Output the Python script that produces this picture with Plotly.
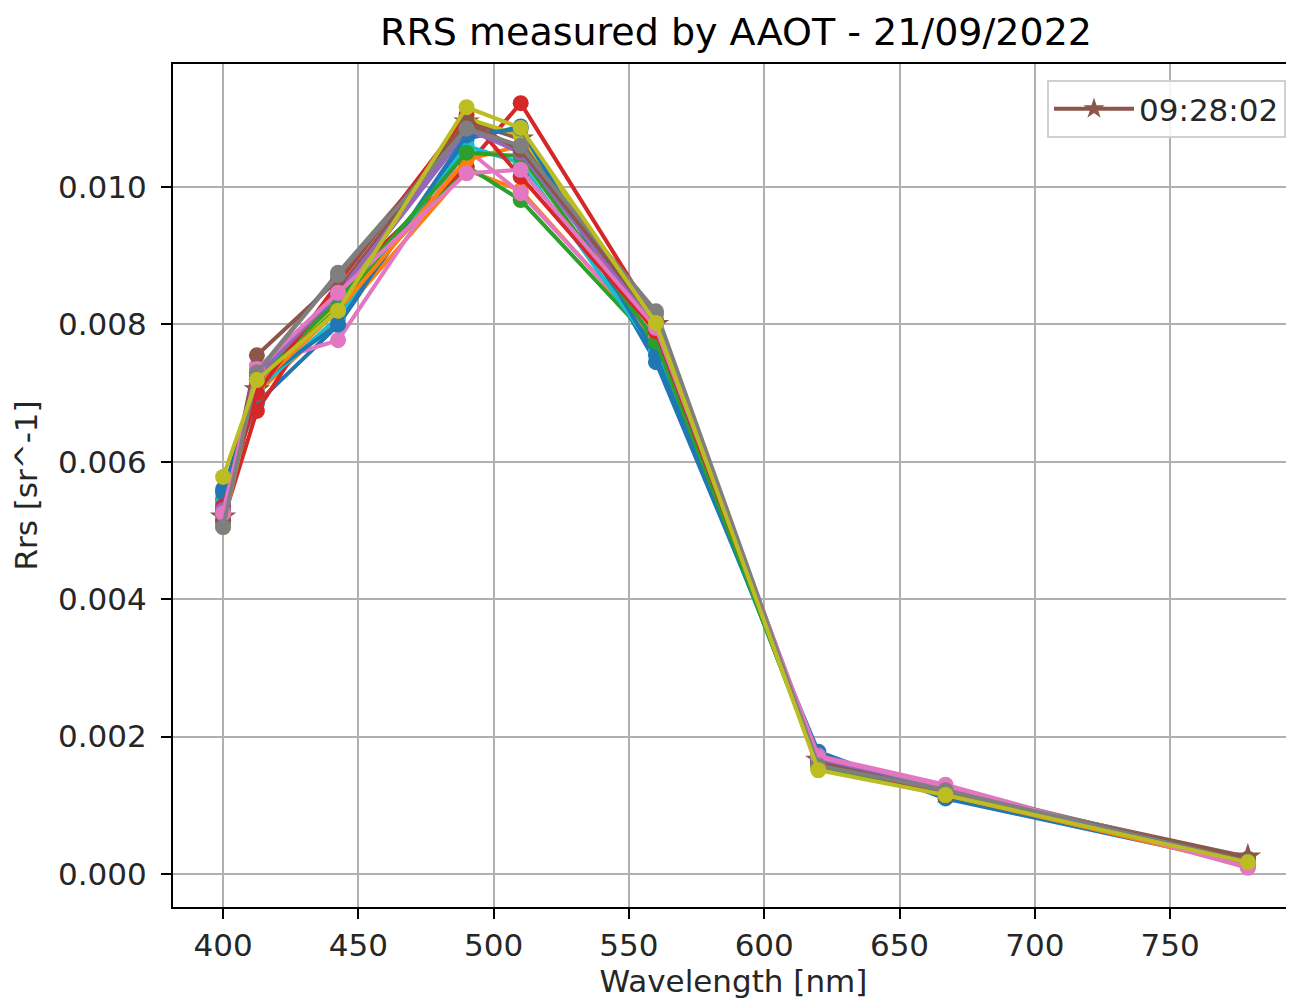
import plotly.graph_objects as go

wavelengths = [400, 412.5, 442.5, 490, 510, 560, 620, 667, 778.75]

# Rrs values (x1e-3) for each measurement, in plotting order
s00 = [5.60, 6.85, 7.99, 10.70, 10.88, 7.45, 1.78, 1.10, 0.15]
s01 = [5.30, 7.00, 8.10, 10.25, 9.95, 7.75, 1.62, 1.18, 0.12]
s02 = [5.45, 7.10, 8.30, 10.30, 9.81, 7.70, 1.60, 1.15, 0.22]
s03 = [5.15, 6.74, 8.55, 10.30, 11.22, 8.05, 1.65, 1.20, 0.18]
s04 = [5.25, 7.20, 8.40, 10.80, 10.60, 7.90, 1.68, 1.22, 0.14]
s05 = [5.20, 7.05, 8.50, 10.95, 10.70, 8.00, 1.66, 1.20, 0.25]
s06 = [5.35, 7.40, 7.77, 10.55, 9.91, 7.80, 1.72, 1.30, 0.09]
s07 = [5.10, 7.30, 8.75, 10.90, 10.55, 8.19, 1.60, 1.25, 0.20]
s08 = [5.05, 7.25, 8.30, 11.00, 10.75, 8.00, 1.55, 1.18, 0.17]
s09 = [5.40, 7.05, 8.10, 10.60, 10.35, 7.60, 1.65, 1.20, 0.15]
s10 = [5.55, 7.15, 8.00, 10.75, 10.85, 7.55, 1.70, 1.15, 0.18]
s11 = [5.25, 7.10, 8.20, 10.40, 10.60, 7.85, 1.60, 1.15, 0.14]
s12 = [5.30, 7.20, 8.35, 10.50, 10.45, 7.75, 1.58, 1.16, 0.22]
s13 = [5.35, 7.00, 8.60, 11.05, 10.15, 7.90, 1.62, 1.18, 0.20]
s14 = [5.30, 7.25, 8.45, 10.85, 10.50, 7.95, 1.65, 1.20, 0.16]
s15 = [5.15, 7.55, 8.65, 10.95, 10.54, 8.05, 1.62, 1.20, 0.22]
s16 = [5.25, 7.35, 8.46, 10.20, 10.25, 7.95, 1.70, 1.28, 0.10]
s17 = [5.05, 7.30, 8.72, 10.85, 10.60, 8.15, 1.58, 1.22, 0.18]
s18 = [5.78, 7.19, 8.20, 11.16, 10.86, 8.02, 1.51, 1.15, 0.17]

series = [s00, s01, s02, s03, s04, s05, s06, s07, s08, s09,
          s10, s11, s12, s13, s14, s15, s16, s17, s18]
highlight_index = 5
highlight_label = "09:28:02"

colors = ["#1f77b4", "#ff7f0e", "#2ca02c", "#d62728", "#9467bd",
          "#8c564b", "#e377c2", "#7f7f7f", "#bcbd22", "#17becf"]

FONT = "DejaVu Sans"
TXT = "#262626"

# page body has an 8px default margin; figure sized to fit the window
W, H = 1286, 994

fig = go.Figure()
for i, s in enumerate(series):
    c = colors[i % 10]
    star = (i == highlight_index)
    fig.add_trace(go.Scatter(
        x=wavelengths, y=[v * 1e-3 for v in s],
        mode="lines+markers",
        line=dict(color=c, width=4),
        marker=dict(color=c, size=20 if star else 16,
                    symbol="star" if star else "circle", line=dict(width=0)),
        name=highlight_label if star else f"s{i}",
        showlegend=star,
    ))

axis_common = dict(
    showgrid=True, gridcolor="#b0b0b0", gridwidth=2,
    zeroline=False, ticks="outside", ticklen=10, tickwidth=2,
    tickcolor="black", showline=True, linecolor="black", linewidth=2,
    tickfont=dict(family=FONT, size=31, color=TXT),
    automargin=False,
)

L, T, B = 165, 56, 95
plot_w = W - L
plot_h = H - T - B

fig.update_layout(
    width=W, height=H,
    margin=dict(l=L, r=0, t=T, b=B, autoexpand=False),
    paper_bgcolor="white", plot_bgcolor="white",
    font=dict(family=FONT, color=TXT),
    title=dict(text="RRS measured by AAOT - 21/09/2022",
               font=dict(family=FONT, size=38, color="black"),
               x=728 / W, xref="container", xanchor="center",
               y=1 - 24 / H, yref="container", yanchor="middle"),
    xaxis=dict(axis_common, range=[381.5, 795.8], dtick=50, tick0=400,
               mirror=True,
               title=dict(text="Wavelength [nm]", standoff=4,
                          font=dict(family=FONT, size=31, color=TXT))),
    yaxis=dict(axis_common, range=[-0.00048, 0.01179], dtick=0.002, tick0=0,
               tickformat=".3f", ticklabelstandoff=8,
               title=dict(text="Rrs [sr^-1]", standoff=12,
                          font=dict(family=FONT, size=31, color=TXT))),
    legend=dict(x=(1278 - L) / plot_w, y=1 - (72 - T) / plot_h,
                xanchor="right", yanchor="top",
                bgcolor="rgba(255,255,255,0.85)", bordercolor="#d0d0d0",
                borderwidth=2, font=dict(family=FONT, size=31, color=TXT),
                itemwidth=80, tracegroupgap=0),
)

fig.write_html("out.html")
